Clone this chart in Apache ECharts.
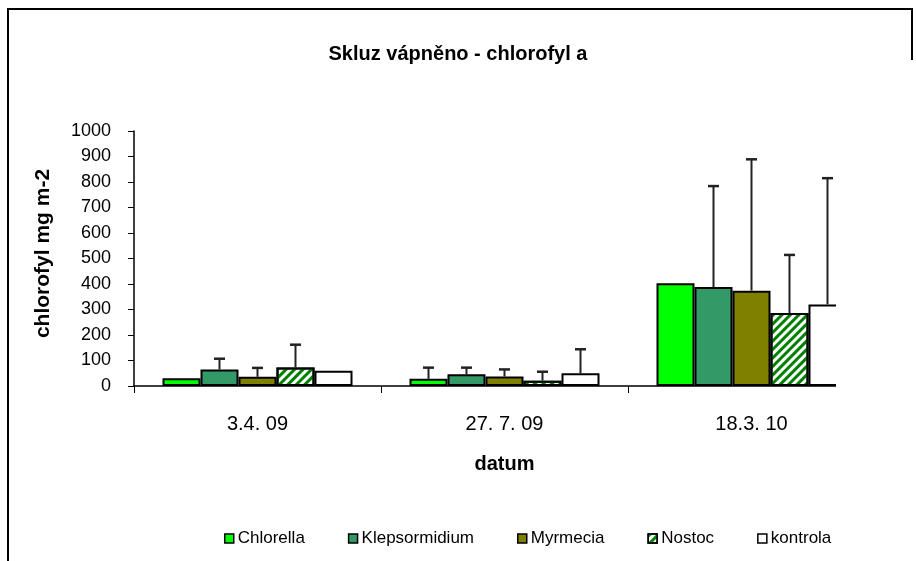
<!DOCTYPE html>
<html>
<head>
<meta charset="utf-8">
<script src="https://cdn.jsdelivr.net/npm/echarts@6/dist/echarts.min.js"></script>
<style>
  html, body { margin: 0; padding: 0; background: #fff; }
  #main { width: 916px; height: 561px; }
</style>
</head>
<body>
<div id="main"></div>
<script>
// data
var dates = ['3.4. 09', '27. 7. 09', '18.3. 10'];
var seriesNames = ['Chlorella', 'Klepsormidium', 'Myrmecia', 'Nostoc', 'kontrola'];

var chlorella     = [30, 28, 403];
var klepsormidium = [65, 46, 388];
var myrmecia      = [36, 37, 374];
var nostoc        = [73, 21, 286];
var kontrola      = [60, 50, 320];

// upper error (SD) above each bar, 0 = none drawn
var errChlorella     = [0, 44, 0];
var errKlepsormidium = [42, 26, 396];
var errMyrmecia      = [35, 28, 515];
var errNostoc        = [89, 35, 228];
var errKontrola      = [0, 94, 495];

var yTicks = [0, 100, 200, 300, 400, 500, 600, 700, 800, 900, 1000];

var FONT = "'Liberation Sans', Arial, sans-serif";
var BAR_W = 38;

var means = [chlorella, klepsormidium, myrmecia, nostoc, kontrola];
var errs = [errChlorella, errKlepsormidium, errMyrmecia, errNostoc, errKontrola];
var fills = ['#00ff00', '#339966', '#808000', '#ffffff', '#ffffff'];

var myChart = echarts.init(document.getElementById('main'));

var series = [];
seriesNames.forEach(function (name, i) {
  var style = { color: fills[i], borderColor: '#000', borderWidth: 2 };
  if (name === 'Nostoc') {
    style.decal = {
      symbol: 'rect',
      symbolSize: 1,
      color: '#008000',
      dashArrayX: [1, 0],
      dashArrayY: [3, 3],
      rotation: -Math.PI / 4
    };
  }
  series.push({
    name: name,
    type: 'bar',
    barWidth: BAR_W,
    barGap: '0%',
    itemStyle: style,
    emphasis: { disabled: true },
    data: means[i]
  });
});

// error bars, one custom series per bar series
seriesNames.forEach(function (name, i) {
  var pts = means[i].map(function (m, k) { return [k, m, errs[i][k]]; });
  series.push({
    type: 'custom',
    z: 5,
    silent: true,
    clip: false,
    encode: { x: 0, y: 1 },
    data: pts,
    renderItem: function (params, api) {
      var err = api.value(2);
      if (!err) return;
      var cat = api.value(0), m = api.value(1);
      var p0 = api.coord([cat, m]);
      var p1 = api.coord([cat, m + err]);
      var x = p0[0] + (i - 2) * BAR_W;
      var s = { stroke: '#222', lineWidth: 2 };
      return {
        type: 'group',
        children: [
          { type: 'line', shape: { x1: x, y1: p0[1], x2: x, y2: p1[1] }, style: s },
          { type: 'line', shape: { x1: x - 5.5, y1: p1[1], x2: x + 5.5, y2: p1[1] }, style: { stroke: '#222', lineWidth: 2.5 } }
        ]
      };
    }
  });
});

var option = {
  backgroundColor: '#fff',
  animation: false,
  title: {
    text: 'Skluz vápněno - chlorofyl a',
    left: 'center',
    top: 39,
    textStyle: { fontFamily: FONT, fontSize: 20, fontWeight: 'bold', color: '#000' }
  },
  legend: {
    data: seriesNames,
    left: 219,
    top: 525,
    itemGap: 43,
    itemWidth: 9,
    itemHeight: 9,
    icon: 'rect',
    itemStyle: { borderWidth: 1.5, borderColor: '#000' },
    textStyle: { fontFamily: FONT, fontSize: 17, color: '#000', padding: [0, 0, 0, -1] }
  },
  grid: { left: 134, right: 41, top: 131, bottom: 175, containLabel: false },
  xAxis: {
    type: 'category',
    data: dates,
    name: 'datum',
    nameLocation: 'middle',
    nameGap: 68,
    nameTextStyle: { fontFamily: FONT, fontSize: 20, fontWeight: 'bold', color: '#000' },
    axisLine: { lineStyle: { color: '#000', width: 1.5 } },
    axisTick: { show: true, length: 7, lineStyle: { color: '#000' } },
    axisLabel: { fontFamily: FONT, fontSize: 20, color: '#000', margin: 28 },
    splitLine: { show: false }
  },
  yAxis: {
    type: 'value',
    min: yTicks[0],
    max: yTicks[yTicks.length - 1],
    interval: 100,
    name: 'chlorofyl mg m-2',
    nameLocation: 'middle',
    nameGap: 80,
    nameRotate: 90,
    nameTextStyle: { fontFamily: FONT, fontSize: 21, fontWeight: 'bold', color: '#000', padding: [0, 0, 0, 10] },
    axisLine: { show: true, lineStyle: { color: '#000', width: 1.5 } },
    axisTick: { show: true, length: 6, lineStyle: { color: '#000' } },
    axisLabel: { fontFamily: FONT, fontSize: 18, color: '#000', margin: 23, formatter: function (v) { return String(v); } },
    splitLine: { show: false }
  },
  graphic: [
    // the plot is cut off on the right in the original
    { type: 'rect', left: 836, top: 110, z: 100, shape: { width: 50, height: 290 }, style: { fill: '#fff' } },
    // frame
    { type: 'polyline', z: 100, shape: { points: [[8, 561], [8, 9], [912, 9], [912, 60]] }, style: { stroke: '#000', lineWidth: 2, fill: null } }
  ],
  series: series
};

myChart.setOption(option);
</script>
</body>
</html>
